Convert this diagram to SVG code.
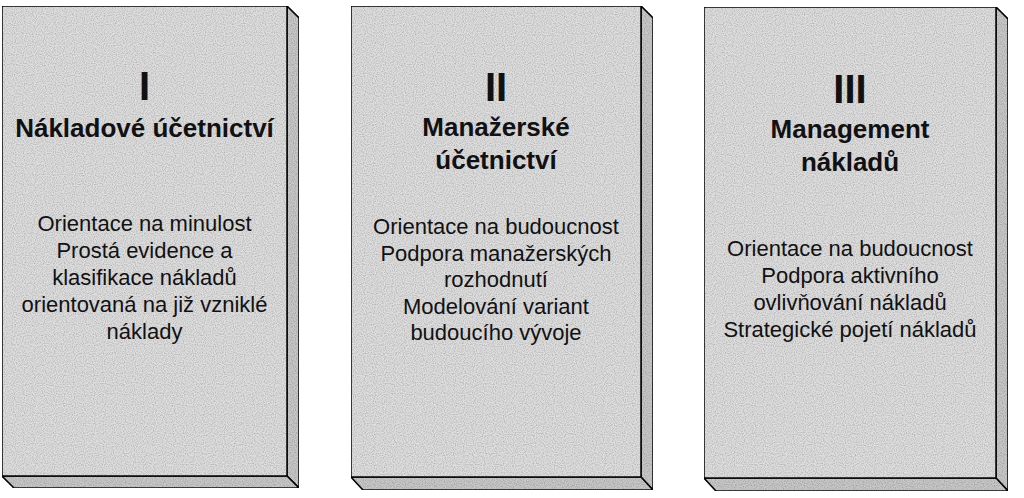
<svg xmlns="http://www.w3.org/2000/svg" width="1024" height="498" viewBox="0 0 1024 498">
<defs>
<filter id="grain" x="0" y="0" width="100%" height="100%">
<feTurbulence type="fractalNoise" baseFrequency="0.9" numOctaves="1" seed="3" result="n"/>
<feColorMatrix in="n" type="matrix" values="0 0 0 0 0  0 0 0 0 0  0 0 0 0 0  0 0 0 -0.9 0.55" result="dots"/>
<feComposite in="dots" in2="SourceGraphic" operator="in" result="d2"/>
<feMerge><feMergeNode in="SourceGraphic"/><feMergeNode in="d2"/></feMerge>
</filter>
</defs>
<style>
.face{fill:#dedede;stroke:#111;stroke-width:1.6;stroke-linejoin:miter}
.side{fill:#c8c8c8;stroke:#111;stroke-width:1.6;stroke-linejoin:miter}
.num{font-family:"Liberation Sans",Arial,sans-serif;font-weight:bold;font-size:40px;text-anchor:middle;fill:#111}
.ttl{font-family:"Liberation Sans",Arial,sans-serif;font-weight:bold;font-size:26px;text-anchor:middle;fill:#111}
.txt{font-family:"Liberation Sans",Arial,sans-serif;font-size:22px;text-anchor:middle;fill:#111}
.g{filter:url(#grain)}
</style>
<rect width="1024" height="498" fill="#fff"/>
<g id="box1">
<g class="g">
<polygon class="side" points="287,6 299,18 299,488 287,476"/>
<polygon class="side" points="2,476 287,476 299,488 14,488"/>
<rect class="face" x="2" y="6" width="285" height="470"/>
</g>
<text class="num" x="144.5" y="100">I</text>
<text class="ttl" x="144.5" y="137">Nákladové účetnictví</text>
<text class="txt" x="144.5" y="231">Orientace na minulost</text>
<text class="txt" x="144.5" y="258">Prostá evidence a</text>
<text class="txt" x="144.5" y="285">klasifikace nákladů</text>
<text class="txt" x="144.5" y="312">orientovaná na již vzniklé</text>
<text class="txt" x="144.5" y="339">náklady</text>
</g>
<g id="box2">
<g class="g">
<polygon class="side" points="641,6 653,18 653,490 641,477"/>
<polygon class="side" points="351,477 641,477 653,490 363,490"/>
<rect class="face" x="351" y="6" width="290" height="471"/>
</g>
<text class="num" x="496" y="101">II</text>
<text class="ttl" x="496" y="136">Manažerské</text>
<text class="ttl" x="496" y="169">účetnictví</text>
<text class="txt" x="496" y="234">Orientace na budoucnost</text>
<text class="txt" x="496" y="260.5">Podpora manažerských</text>
<text class="txt" x="496" y="287">rozhodnutí</text>
<text class="txt" x="496" y="313.5">Modelování variant</text>
<text class="txt" x="496" y="340">budoucího vývoje</text>
</g>
<g id="box3">
<g class="g">
<polygon class="side" points="996,7 1008,19 1008,491 996,478"/>
<polygon class="side" points="704,478 996,478 1008,491 716,491"/>
<rect class="face" x="704" y="7" width="292" height="471"/>
</g>
<text class="num" x="850" y="103">III</text>
<text class="ttl" x="850" y="138">Management</text>
<text class="ttl" x="850" y="171">nákladů</text>
<text class="txt" x="850" y="256">Orientace na budoucnost</text>
<text class="txt" x="850" y="283">Podpora aktivního</text>
<text class="txt" x="850" y="310">ovlivňování nákladů</text>
<text class="txt" x="850" y="337">Strategické pojetí nákladů</text>
</g>
<g id="connectors"></g>
</svg>
